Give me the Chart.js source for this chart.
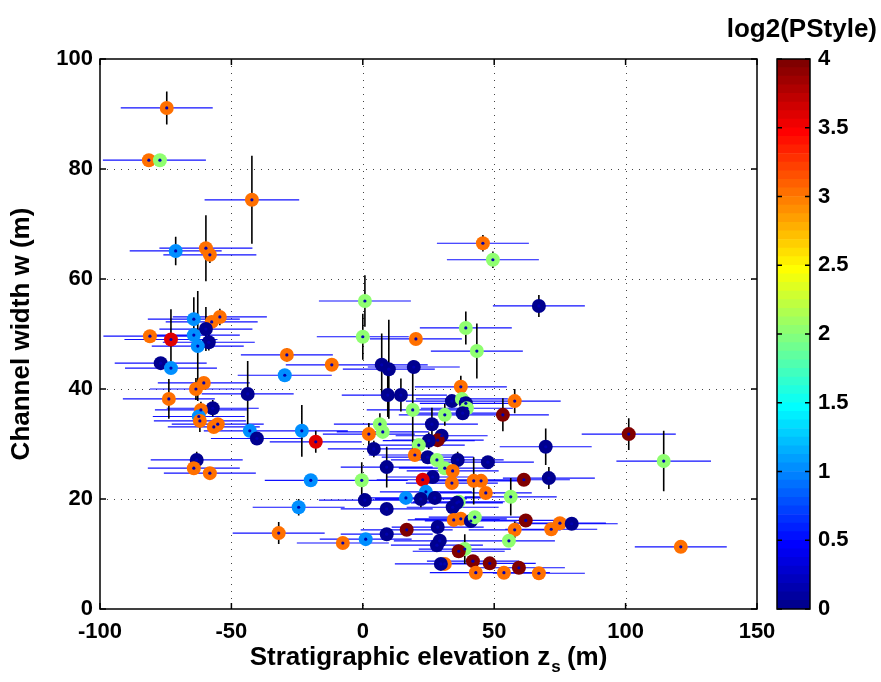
<!DOCTYPE html>
<html>
<head>
<meta charset="utf-8">
<script src="https://cdn.jsdelivr.net/npm/chart.js@4.4.1/dist/chart.umd.min.js"></script>
<style>
html,body{margin:0;padding:0;background:#fff;}
#wrap{position:relative;width:881px;height:682px;overflow:hidden;}
canvas{position:absolute;top:0;}
#main{left:0;}
#cbar{left:700px;}
</style>
</head>
<body>
<div id="wrap">
<canvas id="main" width="881" height="682"></canvas>
<canvas id="cbar" width="181" height="682"></canvas>
</div>
<script>
// ---------------- data ----------------
const zs = [-74.6,-81.4,-77.2,-42.2,-71.2,-59.7,-58.2,-64.3,-54.4,-57.5,-59.7,-81.0,-73.0,-64.3,-58.6,-62.8,-76.9,-73.0,-28.9,-11.8,
  -29.7,-60.5,-63.5,-43.8,-73.8,-57.1,-61.6,-62.4,-62.0,-55.2,-56.7,-43.0,-40.3,-23.2,-17.9,-63.2,-64.3,-58.2,-19.8,-24.4,
  -32.0,-7.6,0.8,0.0,20.2,45.7,49.5,67.0,39.2,43.4,7.2,9.9,19.4,37.3,9.5,14.5,33.9,37.7,39.2,39.6,
  38.0,57.8,53.3,19.0,31.2,26.3,6.5,7.6,2.3,30.0,28.5,25.1,21.3,4.2,69.6,19.8,24.7,28.2,36.1,47.6,
  9.1,31.2,34.2,26.6,22.8,33.9,42.2,45.0,61.3,70.8,-0.4,46.8,24.0,16.4,22.1,27.4,0.8,56.3,36.5,35.8,
  34.2,9.1,34.6,37.3,41.1,42.6,62.0,75.0,79.5,71.7,57.8,28.5,16.7,9.1,1.1,55.6,29.3,28.2,38.8,36.5,
  41.9,48.3,59.4,31.2,29.7,43.0,53.7,67.0,101.2,114.5,121.0];
const channelWidth = [91.1,81.6,81.6,74.4,65.1,65.6,64.4,52.7,53.1,52.2,50.9,49.6,49.0,49.8,48.5,47.8,44.7,43.8,46.2,44.4,
  42.5,41.1,40.0,39.1,38.2,36.5,36.2,35.0,34.2,33.6,33.1,32.4,31.0,32.4,30.4,27.1,25.6,24.7,23.4,18.5,
  13.8,12.0,56.0,49.5,49.1,66.5,63.5,55.1,51.1,46.9,44.4,43.6,44.0,40.4,38.9,38.9,37.8,38.2,37.4,36.5,
  35.6,37.8,35.3,36.2,35.3,33.6,33.6,32.2,31.8,31.5,30.7,30.6,29.8,29.1,29.5,28.0,27.6,27.1,27.1,26.7,
  25.8,25.6,25.1,24.0,23.5,22.9,23.3,23.3,23.5,23.8,23.4,21.1,21.3,20.2,20.0,20.2,19.8,20.4,19.5,19.3,
  18.5,18.2,16.2,16.4,16.0,16.7,16.1,15.6,15.5,14.5,14.4,14.9,14.4,13.6,12.7,12.4,12.4,11.6,10.9,10.5,
  8.7,8.3,7.5,8.2,8.2,6.6,6.6,6.5,31.8,26.9,11.3];
const zsErr = [17.5,17.5,17.5,18,17.5,17.7,17.7,17.5,17.9,17.5,17.7,17.7,17.7,17.5,17.5,17.5,17.5,17.5,17.5,17.5,
  17.9,17.5,17.5,17.5,17.5,17.5,17.5,17.5,17.5,17.5,17.5,17.5,17.5,17.5,17.5,17.5,17.5,17.5,17.5,17.5,
  17.5,17.5,17.5,17.5,17.5,17.5,17.5,17.5,17.5,17.5,17.5,17.5,17.5,17.5,17.5,17.5,17.5,17.5,17.5,17.5,
  17.5,17.5,17.5,17.5,17.5,17.5,17.5,17.5,17.5,17.5,17.5,17.5,17.5,17.5,17.5,17.5,17.5,17.5,17.5,17.5,
  17.5,17.5,17.5,17.5,17.5,17.5,17.5,17.5,17.5,17.5,17.5,17.5,17.5,17.5,17.5,17.5,17.5,17.5,17.5,17.5,
  17.5,17.5,17.5,17.5,17.5,17.5,17.5,17.5,17.5,17.5,17.5,17.5,17.5,17.5,17.5,17.5,17.5,17.5,17.5,17.5,
  17.5,17.5,17.5,17.5,17.5,17.5,17.5,17.5,17.9,18.0,17.5];
const widthErr = [3,0.5,0.5,8,2.6,6,1.5,4,1.5,1,4,0.5,5.5,1,1.5,10,0.5,1,1.2,1,
  0.5,1,2,6,3.6,1.5,1.5,1,2,1,1,0.5,0.5,4.7,2,1.5,1,1,0.5,1.5,
  2,0.5,4.7,4.2,0.5,1.5,1.5,2,3,5,5.7,9,1,2,4,3,1,1,1,1,
  1,2.2,3,9,2,3,2,1,2,1,1,1.5,1,1.5,3.3,1,1,1,1.5,1,
  3.7,1,1,1,1,1,4.3,1,1,2,3.3,1,1,1,1.5,1,1,3.4,1,1,
  1,1,1,1,1,1,1,1,1,1,1.5,1,1,1,1,1,1,1,2.7,1,
  1,1,1,1,1,1,1,1,2.9,5.5,1];
const log2PStyle = [3,3,2,3,1,3,3,1,3,3,0,3,3.58,1,0,1,0,1,3,3,
  1,3,3,0,3,0,3,1,3,3,3,1,0,1,3.58,0,3,3,1,1,
  3,3,2,2,3,3,2,0,2,2,0,0,0,3,0,0,0,2,0,2,
  0,3,4,2,2,0,2,2,3,0,4,0,2,0,0,3,0,2,0,0,
  0,2,3,0,3.58,3,3,3,4,0,2,3,1,1,0,0,0,2,2,0,
  0,0,3,3,0,2,4,3,0,3,3,0,4,0,1,2,0,0,2,4,
  4,4,4,3,0,3,3,3,4,2,3];
const xTickValues = [-100,-50,0,50,100,150];
const yTickValues = [0,20,40,60,80,100];
const cbTickValues = [0,0.5,1,1.5,2,2.5,3,3.5,4];
const cLimits = [0,4];

// ---------------- MATLAB jet colormap ----------------
function jet(m){
  const n = Math.ceil(m/4);
  const u = [];
  for(let i=1;i<=n;i++) u.push(i/n);
  for(let i=1;i<n;i++) u.push(1);
  for(let i=n;i>=1;i--) u.push(i/n);
  const off = Math.ceil(n/2) - (m%4===1?1:0);
  const J = Array.from({length:m},()=>[0,0,0]);
  const g=[],r=[],b=[];
  for(let i=1;i<=u.length;i++){ g.push(off+i); }
  g.forEach(v=>{ if(v+n<=m) r.push(v+n); if(v-n>=1) b.push(v-n); });
  const gg = g.filter(v=>v<=m);
  r.forEach((v,i)=>J[v-1][0]=u[i]);
  gg.forEach((v,i)=>J[v-1][1]=u[i]);
  b.forEach((v,i)=>J[v-1][2]=u[u.length-b.length+i]);
  return J.map(c=>'rgb('+c.map(x=>Math.round(x*255)).join(',')+')');
}
const JET = jet(64);
function colorFor(v){
  let idx = Math.floor((v-cLimits[0])/(cLimits[1]-cLimits[0])*64);
  idx = Math.max(0, Math.min(63, idx));
  return JET[idx];
}

const FONT = '"Liberation Sans", Arial, Helvetica, sans-serif';
const PLOT = {left:100, right:757, top:59, bottom:609};
const TITLE_SIZE = 26, TICK_SIZE = 22;

// build error-bar line data (null breaks the line)
const xErrLines = [], yErrLines = [];
zs.forEach((x,i)=>{
  const y = channelWidth[i];
  xErrLines.push({x:x-zsErr[i], y:y},{x:x+zsErr[i], y:y},{x:x, y:null});
  yErrLines.push({x:x, y:y-widthErr[i]},{x:x, y:y+widthErr[i]},{x:x, y:null});
});
const pts = zs.map((x,i)=>({x:x, y:channelWidth[i]}));

// ---------------- decoration plugin for main axes ----------------
const axesDecor = {
  id:'axesDecor',
  beforeDatasetsDraw(chart){
    const {ctx, chartArea:a, scales:{x,y}} = chart;
    ctx.save();
    ctx.strokeStyle = '#444';
    ctx.lineWidth = 1;
    ctx.setLineDash([1,6]);
    xTickValues.slice(1,-1).forEach(v=>{
      const px = Math.round(x.getPixelForValue(v))+0.5;
      ctx.beginPath(); ctx.moveTo(px,a.top); ctx.lineTo(px,a.bottom); ctx.stroke();
    });
    yTickValues.slice(1,-1).forEach(v=>{
      const py = Math.round(y.getPixelForValue(v))+0.5;
      ctx.beginPath(); ctx.moveTo(a.left,py); ctx.lineTo(a.right,py); ctx.stroke();
    });
    ctx.restore();
  },
  afterDraw(chart){
    const {ctx, chartArea:a, scales:{x,y}} = chart;
    ctx.save();
    ctx.setLineDash([]);
    ctx.strokeStyle = '#000';
    ctx.lineWidth = 1.5;
    ctx.strokeRect(a.left, a.top, a.right-a.left, a.bottom-a.top);
    const tl = 6;
    xTickValues.forEach(v=>{
      const px = x.getPixelForValue(v);
      ctx.beginPath(); ctx.moveTo(px,a.bottom); ctx.lineTo(px,a.bottom-tl);
      ctx.moveTo(px,a.top); ctx.lineTo(px,a.top+tl); ctx.stroke();
    });
    yTickValues.forEach(v=>{
      const py = y.getPixelForValue(v);
      ctx.beginPath(); ctx.moveTo(a.left,py); ctx.lineTo(a.left+tl,py);
      ctx.moveTo(a.right,py); ctx.lineTo(a.right-tl,py); ctx.stroke();
    });
    // x-axis title with subscript
    ctx.fillStyle = '#000';
    ctx.textBaseline = 'alphabetic';
    ctx.textAlign = 'left';
    const big = 'bold '+TITLE_SIZE+'px '+FONT, small = 'bold 17px '+FONT;
    const t1 = 'Stratigraphic elevation z', t2 = 's', t3 = ' (m)';
    ctx.font = big; const w1 = ctx.measureText(t1).width, w3 = ctx.measureText(t3).width;
    ctx.font = small; const w2 = ctx.measureText(t2).width;
    const total = w1+w2+w3;
    let sx = (a.left+a.right)/2 - total/2;
    const base = 665;
    ctx.font = big; ctx.fillText(t1, sx, base);
    ctx.font = small; ctx.fillText(t2, sx+w1+1, base+7);
    ctx.font = big; ctx.fillText(t3, sx+w1+w2, base);
    // colorbar title
    ctx.font = 'bold '+TITLE_SIZE+'px '+FONT;
    ctx.textAlign = 'right';
    ctx.fillText('log2(PStyle)', 877, 37);
    ctx.restore();
  }
};

new Chart(document.getElementById('main'), {
  data:{
    datasets:[
      {type:'scatter', label:'centers', data:pts, order:0, pointRadius:1.6, pointHoverRadius:1.6,
       pointBackgroundColor:'#0000B0', pointBorderWidth:0},
      {type:'scatter', label:'log2(PStyle)', data:pts, order:1, pointRadius:7, pointHoverRadius:7,
       pointBackgroundColor:log2PStyle.map(colorFor), pointBorderWidth:0},
      {type:'line', label:'w error', data:yErrLines, order:2, borderColor:'#000', borderWidth:1.6,
       pointRadius:0, spanGaps:false, tension:0, fill:false},
      {type:'line', label:'zs error', data:xErrLines, order:3, borderColor:'#1010ff', borderWidth:1.2,
       pointRadius:0, spanGaps:false, tension:0, fill:false}
    ]
  },
  options:{
    responsive:false, animation:false, devicePixelRatio:1,
    layout:{padding:{top:PLOT.top, right:881-PLOT.right, bottom:0, left:0}},
    plugins:{legend:{display:false}, tooltip:{enabled:false}},
    scales:{
      x:{type:'linear', min:-100, max:150,
        afterBuildTicks:s=>{s.ticks = xTickValues.map(v=>({value:v}));},
        ticks:{font:{family:FONT, size:TICK_SIZE, weight:'bold'}, color:'#000', padding:10, maxRotation:0},
        grid:{display:false, drawTicks:false}, border:{display:false},
        afterFit:s=>{s.height = 682-PLOT.bottom;}},
      y:{type:'linear', min:0, max:100,
        afterBuildTicks:s=>{s.ticks = yTickValues.map(v=>({value:v}));},
        ticks:{font:{family:FONT, size:TICK_SIZE, weight:'bold'}, color:'#000', padding:7},
        grid:{display:false, drawTicks:false}, border:{display:false},
        title:{display:true, text:'Channel width w (m)', color:'#000',
          font:{family:FONT, size:TITLE_SIZE, weight:'bold'}, padding:{top:6, bottom:0}},
        afterFit:s=>{s.width = PLOT.left;}}
    }
  },
  plugins:[axesDecor]
});

// ---------------- colorbar ----------------
const cbDecor = {
  id:'cbDecor',
  afterDraw(chart){
    const {ctx, chartArea:a, scales:{y}} = chart;
    ctx.save();
    ctx.strokeStyle = '#000'; ctx.lineWidth = 1.5;
    ctx.strokeRect(a.left, a.top, a.right-a.left, a.bottom-a.top);
    cbTickValues.forEach(v=>{
      const py = y.getPixelForValue(v);
      ctx.beginPath(); ctx.moveTo(a.left,py); ctx.lineTo(a.left+5,py);
      ctx.moveTo(a.right,py); ctx.lineTo(a.right-5,py); ctx.stroke();
    });
    ctx.restore();
  }
};
const CB = {left:777, right:810};
new Chart(document.getElementById('cbar'), {
  type:'bar',
  data:{labels:['c'], datasets: JET.map(col=>({data:[(cLimits[1]-cLimits[0])/64], backgroundColor:col,
    borderWidth:0, barPercentage:1, categoryPercentage:1, stack:'cb'}))},
  options:{
    responsive:false, animation:false, devicePixelRatio:1,
    layout:{padding:{top:PLOT.top, bottom:682-PLOT.bottom, left:CB.left-700, right:0}},
    plugins:{legend:{display:false}, tooltip:{enabled:false}},
    scales:{
      x:{display:false, stacked:true},
      y:{stacked:true, position:'right', min:cLimits[0], max:cLimits[1],
        afterBuildTicks:s=>{s.ticks = cbTickValues.map(v=>({value:v}));},
        ticks:{font:{family:FONT, size:TICK_SIZE, weight:'bold'}, color:'#000', padding:8,
          callback:v=>String(v)},
        grid:{display:false, drawTicks:false}, border:{display:false},
        afterFit:s=>{s.width = 881-CB.right;}}
    }
  },
  plugins:[cbDecor]
});
</script>
</body>
</html>
